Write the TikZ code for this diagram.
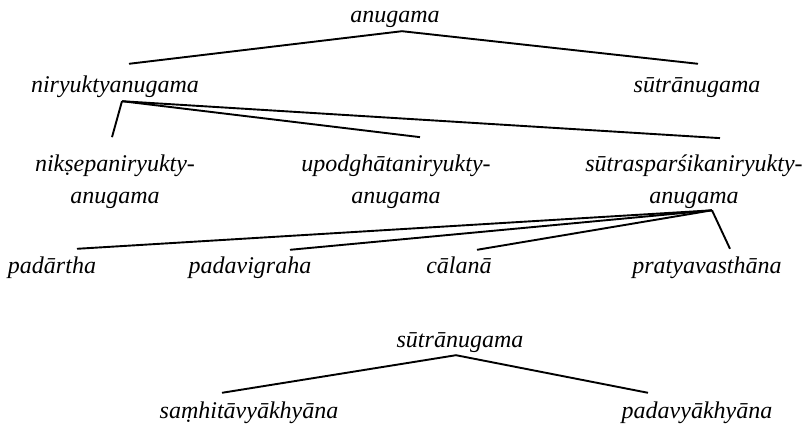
\documentclass[tikz,border=0pt]{standalone}
\usepackage{fontspec}
\setmainfont{Liberation Serif}[ItalicFont={Liberation Serif Italic}]
\usepackage{tikz}
\usetikzlibrary{positioning}

\tikzset{
  lbl/.style={font=\rmfamily\fontsize{24}{32}\selectfont\itshape, inner xsep=0pt, inner ysep=3pt},
  term/.style={lbl, anchor=base, text height=17pt, text depth=5pt},
  split/.style={lbl, anchor=base, align=center},
  branch/.style={line width=1.9pt}
}

\begin{document}
\begin{tikzpicture}[x=1pt,y=-1pt]
\useasboundingbox (0,0) rectangle (807,425);
% upper tree
\node[term] (anugama) at (395,23) {anugama};
\node[term] (niryukta) at (115,93) {niryuktyanugama};
\node[term] (sutraA) at (697,93) {sūtrānugama};
% split nodes sit on the baseline of their second line
\node[split] (niksepa) at (115,204) {nikṣepaniryukty-\\anugama};
\node[split] (upodghata) at (396,204) {upodghātaniryukty-\\anugama};
\node[split] (sparsika) at (694,204) {sūtrasparśikaniryukty-\\anugama};
\node[term] (padartha) at (52,273) {padārtha};
\node[term] (padavigraha) at (250,273) {padavigraha};
\node[term] (calana) at (459,273) {cālanā};
\node[term] (pratyava) at (707,273) {pratyavasthāna};
\draw[branch] ([xshift=14pt,yshift=9pt]niryukta.north) -- ([xshift=7pt]anugama.south) -- ([xshift=1pt,yshift=9pt]sutraA.north);
\draw[branch] ([xshift=7pt]niryukta.south) -- ([xshift=-3pt,yshift=15pt]niksepa.north);
\draw[branch] ([xshift=7pt]niryukta.south) -- ([xshift=24pt,yshift=15pt]upodghata.north);
\draw[branch] ([xshift=7pt]niryukta.south) -- ([xshift=26pt,yshift=14pt]sparsika.north);
\draw[branch] ([xshift=18pt,yshift=2pt]sparsika.south) -- ([xshift=25pt,yshift=4pt]padartha.north);
\draw[branch] ([xshift=18pt,yshift=2pt]sparsika.south) -- ([xshift=40pt,yshift=3pt]padavigraha.north);
\draw[branch] ([xshift=18pt,yshift=2pt]sparsika.south) -- ([xshift=18pt,yshift=3pt]calana.north);
\draw[branch] ([xshift=18pt,yshift=2pt]sparsika.south) -- ([xshift=23pt,yshift=4pt]pratyava.north);
% lower tree
\node[term] (sutraB) at (460,347) {sūtrānugama};
\node[term] (samhita) at (249,418) {saṃhitāvyākhyāna};
\node[term] (padavyakh) at (697,418) {padavyākhyāna};
\draw[branch] ([xshift=-27pt,yshift=5pt]samhita.north) -- ([xshift=-4pt]sutraB.south) -- ([xshift=-49pt,yshift=5pt]padavyakh.north);
\end{tikzpicture}
\end{document}
